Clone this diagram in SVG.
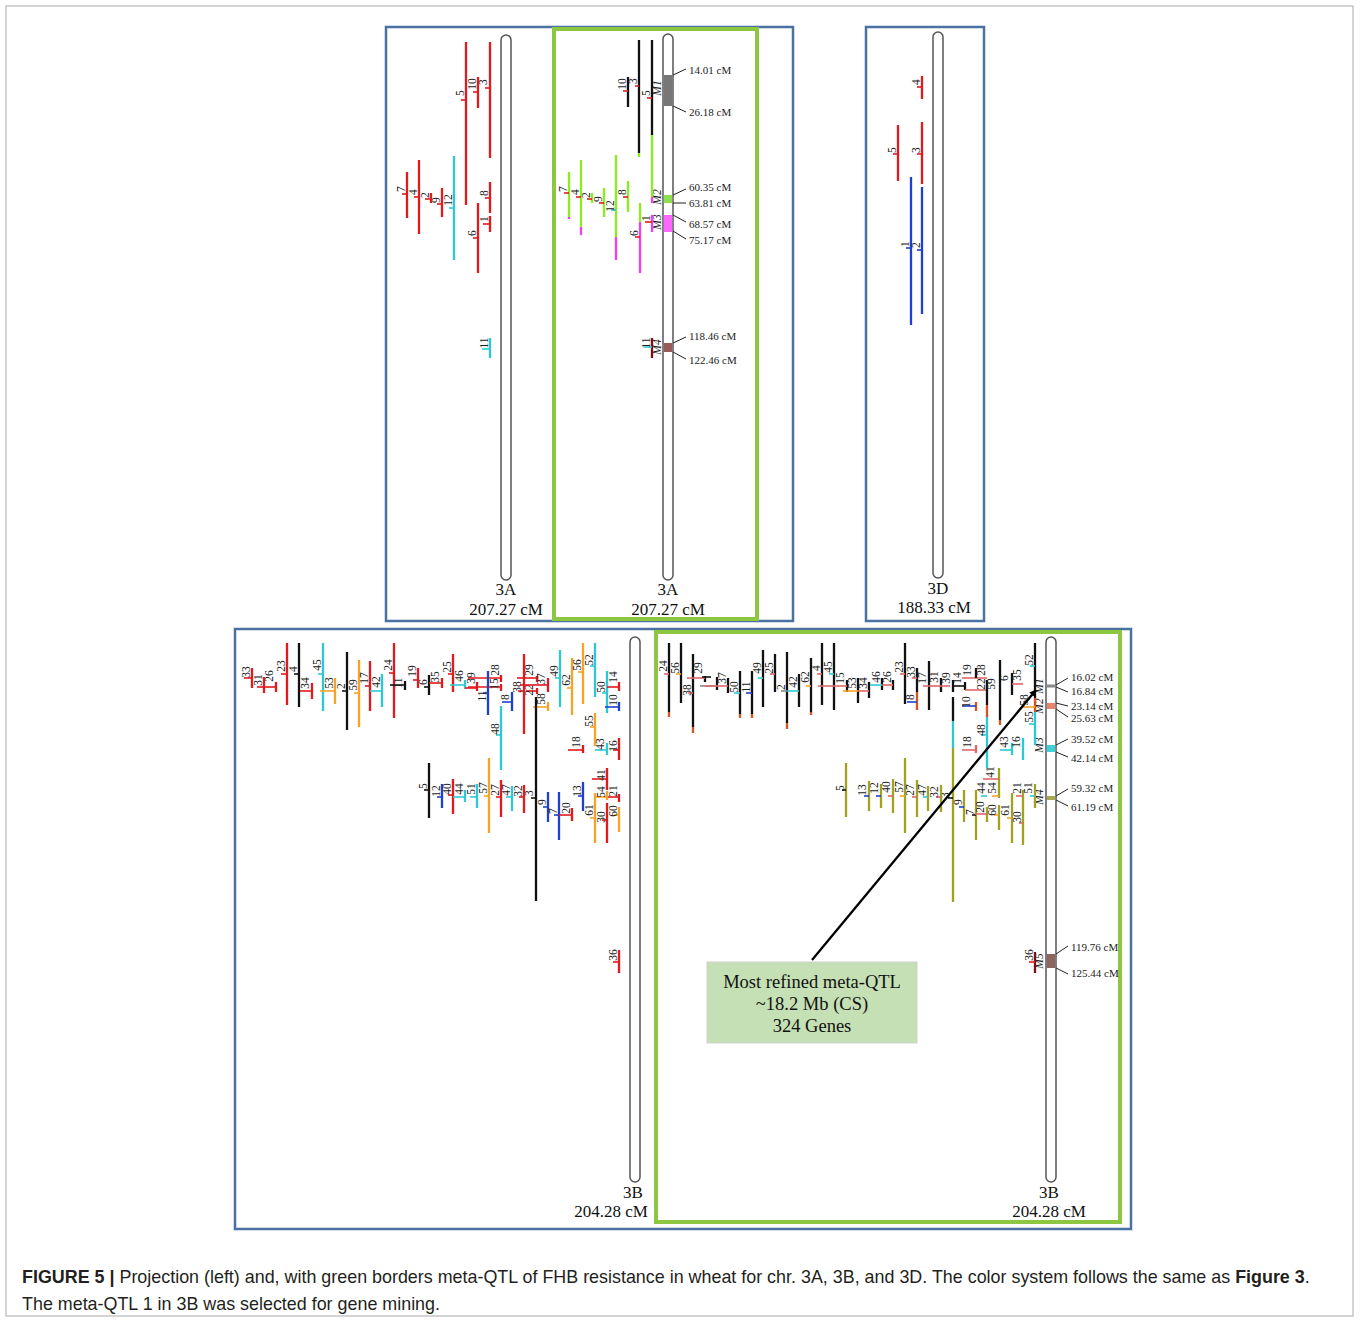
<svg xmlns="http://www.w3.org/2000/svg" width="1360" height="1322" viewBox="0 0 1360 1322">
<style>
line{stroke-width:2.3;fill:none}
.tk{stroke-width:1.6}
.k{stroke:#111}.r{stroke:#e3191c}.c{stroke:#2cc9d4}.o{stroke:#f7a325}.b{stroke:#1f3fd0}.g{stroke:#8aee1c}.m{stroke:#f53cf5}.ol{stroke:#a3a21f}.t{stroke:#d9531e}.lr{stroke:#e06666}.gy{stroke:#888}.dr{stroke:#7a1010}
.lb{font-family:"Liberation Serif","Times New Roman",serif;font-size:11.5px;text-anchor:middle;fill:#222}
.mi{font-family:"Liberation Serif","Times New Roman",serif;font-size:11.5px;font-style:italic;text-anchor:middle;fill:#222}
.cm{font-family:"Liberation Serif","Times New Roman",serif;font-size:11px;fill:#222}
.cl{stroke:#222;stroke-width:1}
.chr{fill:#fff;stroke:#555;stroke-width:1.5}
.ch{font-family:"Liberation Serif","Times New Roman",serif;font-size:17px;text-anchor:middle;fill:#111}
.pb{fill:none;stroke:#4b71a0;stroke-width:2.5}
.pg{fill:none;stroke:#8dc641;stroke-width:4}
.cap{font-family:"Liberation Sans",Arial,sans-serif;font-size:17.9px;fill:#231f20}
</style>
<defs>
<marker id="ah" viewBox="0 0 10 10" refX="9" refY="5" markerWidth="7" markerHeight="7" orient="auto" markerUnits="userSpaceOnUse"><path d="M0,0 L10,5 L0,10 z" fill="#000"/></marker>
</defs>
<rect x="6" y="6" width="1347" height="1310" fill="#fff" stroke="#aaa" stroke-width="1"/>

<g id="panels">
<rect class="pb" x="386" y="27" width="407" height="594"/>
<rect class="pg" x="554" y="29" width="203" height="590"/>
<rect class="pb" x="866" y="27" width="118" height="594"/>
<rect class="pb" x="235" y="629" width="896" height="600"/>
<rect class="pg" x="656" y="632" width="464" height="590"/>
</g>

<g id="chr3A_proj"><rect class="chr" x="501" y="35" width="10" height="545" rx="5"/><text class="ch" x="506" y="595">3A</text><text class="ch" x="506" y="615">207.27 cM</text></g>
<g id="chr3A_meta"><rect class="chr" x="663" y="34" width="10" height="546" rx="5"/>
<rect x="663.8" y="75" width="8.4" height="31" fill="#777"/>
<rect x="663.8" y="195" width="8.4" height="8" fill="#8fe050"/>
<rect x="663.8" y="215" width="8.4" height="17" fill="#ff66ff"/>
<rect x="663.8" y="343" width="8.4" height="9" fill="#9b5a5a"/>
<text class="ch" x="668" y="595">3A</text><text class="ch" x="668" y="615">207.27 cM</text></g>
<g id="chr3D"><rect class="chr" x="933" y="32" width="10" height="546" rx="5"/><text class="ch" x="938" y="594">3D</text><text class="ch" x="934" y="613">188.33 cM</text></g>
<g id="chr3B_proj"><rect class="chr" x="630" y="637" width="10" height="545" rx="5"/><text class="ch" x="633" y="1198">3B</text><text class="ch" x="611" y="1217">204.28 cM</text></g>
<g id="chr3B_meta"><rect class="chr" x="1046" y="637" width="10" height="545" rx="5"/>
<rect x="1046.8" y="684.5" width="8.4" height="3" fill="#888"/>
<rect x="1046.8" y="703" width="8.4" height="6" fill="#e8856c"/>
<rect x="1046.8" y="745" width="8.4" height="7" fill="#40d0d8"/>
<rect x="1046.8" y="796" width="8.4" height="4" fill="#a8a850"/>
<rect x="1046.8" y="954" width="8.4" height="14" fill="#8e6460"/>
<text class="ch" x="1049" y="1198">3B</text><text class="ch" x="1049" y="1217">204.28 cM</text></g>

<g id="meta3A_labels">
<text class="mi" transform="translate(661 88) rotate(-90)">M1</text>
<text class="mi" transform="translate(661 197) rotate(-90)">M2</text>
<text class="mi" transform="translate(661 222) rotate(-90)">M3</text>
<text class="mi" transform="translate(661 347) rotate(-90)">M4</text>
<line class="cl" x1="673" y1="75" x2="686" y2="69"/><text class="cm" x="689" y="74">14.01 cM</text>
<line class="cl" x1="673" y1="106" x2="686" y2="112"/><text class="cm" x="689" y="116">26.18 cM</text>
<line class="cl" x1="673" y1="195" x2="686" y2="189"/><text class="cm" x="689" y="191">60.35 cM</text>
<line class="cl" x1="673" y1="203" x2="686" y2="203"/><text class="cm" x="689" y="207">63.81 cM</text>
<line class="cl" x1="673" y1="215" x2="686" y2="222"/><text class="cm" x="689" y="228">68.57 cM</text>
<line class="cl" x1="673" y1="231" x2="686" y2="239"/><text class="cm" x="689" y="244">75.17 cM</text>
<line class="cl" x1="673" y1="343" x2="686" y2="337"/><text class="cm" x="689" y="340">118.46 cM</text>
<line class="cl" x1="673" y1="352" x2="686" y2="359"/><text class="cm" x="689" y="364">122.46 cM</text>
</g>

<g id="meta3B_labels">
<text class="mi" transform="translate(1043 686) rotate(-90)">M1</text>
<text class="mi" transform="translate(1043 706) rotate(-90)">M2</text>
<text class="mi" transform="translate(1043 745) rotate(-90)">M3</text>
<text class="mi" transform="translate(1043 797) rotate(-90)">M4</text>
<text class="mi" transform="translate(1043 961) rotate(-90)">M5</text>
<line class="cl" x1="1056" y1="685" x2="1068" y2="678"/><text class="cm" x="1071" y="681">16.02 cM</text>
<line class="cl" x1="1056" y1="687" x2="1068" y2="692"/><text class="cm" x="1071" y="695">16.84 cM</text>
<line class="cl" x1="1056" y1="703" x2="1068" y2="706"/><text class="cm" x="1071" y="710">23.14 cM</text>
<line class="cl" x1="1056" y1="709" x2="1068" y2="717"/><text class="cm" x="1071" y="722">25.63 cM</text>
<line class="cl" x1="1056" y1="745" x2="1068" y2="739"/><text class="cm" x="1071" y="743">39.52 cM</text>
<line class="cl" x1="1056" y1="752" x2="1068" y2="757"/><text class="cm" x="1071" y="762">42.14 cM</text>
<line class="cl" x1="1056" y1="796" x2="1068" y2="789"/><text class="cm" x="1071" y="792">59.32 cM</text>
<line class="cl" x1="1056" y1="800" x2="1068" y2="806"/><text class="cm" x="1071" y="811">61.19 cM</text>
<line class="cl" x1="1056" y1="954" x2="1068" y2="946"/><text class="cm" x="1071" y="951">119.76 cM</text>
<line class="cl" x1="1056" y1="968" x2="1068" y2="974"/><text class="cm" x="1071" y="977">125.44 cM</text>
</g>

<g id="a_q5"><line class="r" x1="466" y1="42" x2="466" y2="205"/><line class="r tk" x1="461" y1="100" x2="466" y2="100"/><text class="lb" transform="translate(464 93) rotate(-90)">5</text></g>
<g id="a_q10"><line class="r" x1="478" y1="77" x2="478" y2="108"/><line class="r tk" x1="473" y1="92" x2="478" y2="92"/><text class="lb" transform="translate(476 84) rotate(-90)">10</text></g>
<g id="a_q3"><line class="r" x1="490" y1="42" x2="490" y2="158"/><line class="r tk" x1="485" y1="88" x2="490" y2="88"/><text class="lb" transform="translate(487 82) rotate(-90)">3</text></g>
<g id="a_q7"><line class="r" x1="407" y1="172" x2="407" y2="218"/><line class="r tk" x1="402" y1="194" x2="407" y2="194"/><text class="lb" transform="translate(405 189) rotate(-90)">7</text></g>
<g id="a_q4"><line class="r" x1="419" y1="160" x2="419" y2="234"/><line class="r tk" x1="414" y1="197" x2="419" y2="197"/><text class="lb" transform="translate(417 192) rotate(-90)">4</text></g>
<g id="a_q2"><line class="r" x1="431" y1="193" x2="431" y2="203"/><line class="r tk" x1="425" y1="199" x2="431" y2="199"/><text class="lb" transform="translate(429 195) rotate(-90)">2</text></g>
<g id="a_q9"><line class="r" x1="442" y1="188" x2="442" y2="217"/><line class="r tk" x1="437" y1="204" x2="442" y2="204"/><text class="lb" transform="translate(440 200) rotate(-90)">9</text></g>
<g id="a_q12"><line class="c" x1="454" y1="156" x2="454" y2="260"/><line class="c tk" x1="449" y1="208" x2="454" y2="208"/><text class="lb" transform="translate(452 200) rotate(-90)">12</text></g>
<g id="a_q8"><line class="r" x1="490" y1="182" x2="490" y2="213"/><line class="r tk" x1="485" y1="198" x2="490" y2="198"/><text class="lb" transform="translate(488 193) rotate(-90)">8</text></g>
<g id="a_q1"><line class="r" x1="490" y1="216" x2="490" y2="232"/><line class="r tk" x1="483" y1="224" x2="490" y2="224"/><text class="lb" transform="translate(488 219) rotate(-90)">1</text></g>
<g id="a_q6"><line class="r" x1="478" y1="203" x2="478" y2="273"/><line class="r tk" x1="473" y1="238" x2="478" y2="238"/><text class="lb" transform="translate(476 233) rotate(-90)">6</text></g>
<g id="a_q11"><line class="c" x1="490" y1="338" x2="490" y2="358"/><line class="c tk" x1="482" y1="349" x2="490" y2="349"/><text class="lb" transform="translate(488 343) rotate(-90)">11</text></g>

<g id="am_q10"><line class="k" x1="628" y1="77" x2="628" y2="107"/><line class="r tk" x1="623" y1="91" x2="628" y2="91"/><text class="lb" transform="translate(626 84) rotate(-90)">10</text></g>
<g id="am_q3"><line class="k" x1="639" y1="40" x2="639" y2="153"/><line class="g" x1="639" y1="153" x2="639" y2="157"/><line class="r tk" x1="635" y1="86" x2="639" y2="86"/><text class="lb" transform="translate(637 81) rotate(-90)">3</text></g>
<g id="am_q5"><line class="k" x1="652" y1="40" x2="652" y2="135"/><line class="g" x1="652" y1="135" x2="652" y2="197"/><line class="m" x1="652" y1="197" x2="652" y2="203"/><line class="r tk" x1="647" y1="98" x2="652" y2="98"/><text class="lb" transform="translate(650 93) rotate(-90)">5</text></g>
<g id="am_q7"><line class="g" x1="569" y1="172" x2="569" y2="217"/><line class="m" x1="569" y1="217" x2="569" y2="219"/><line class="r tk" x1="564" y1="193" x2="569" y2="193"/><text class="lb" transform="translate(567 189) rotate(-90)">7</text></g>
<g id="am_q4"><line class="g" x1="581" y1="160" x2="581" y2="227"/><line class="m" x1="581" y1="227" x2="581" y2="235"/><line class="r tk" x1="576" y1="197" x2="581" y2="197"/><text class="lb" transform="translate(579 192) rotate(-90)">4</text></g>
<g id="am_q2"><line class="g" x1="592" y1="193" x2="592" y2="203"/><line class="r tk" x1="587" y1="199" x2="592" y2="199"/><text class="lb" transform="translate(590 195) rotate(-90)">2</text></g>
<g id="am_q9"><line class="g" x1="604" y1="188" x2="604" y2="217"/><line class="r tk" x1="599" y1="203" x2="604" y2="203"/><text class="lb" transform="translate(602 199) rotate(-90)">9</text></g>
<g id="am_q12"><line class="g" x1="616" y1="155" x2="616" y2="237"/><line class="m" x1="616" y1="237" x2="616" y2="260"/><line class="c tk" x1="611" y1="210" x2="616" y2="210"/><text class="lb" transform="translate(614 206) rotate(-90)">12</text></g>
<g id="am_q8"><line class="g" x1="628" y1="181" x2="628" y2="212"/><line class="r tk" x1="623" y1="197" x2="628" y2="197"/><text class="lb" transform="translate(626 192) rotate(-90)">8</text></g>
<g id="am_q6"><line class="g" x1="640" y1="203" x2="640" y2="222"/><line class="m" x1="640" y1="222" x2="640" y2="273"/><line class="r tk" x1="635" y1="237" x2="640" y2="237"/><text class="lb" transform="translate(638 233) rotate(-90)">6</text></g>
<g id="am_q1"><line class="m" x1="652" y1="215" x2="652" y2="232"/><line class="r tk" x1="645" y1="222" x2="652" y2="222"/><text class="lb" transform="translate(650 218) rotate(-90)">1</text></g>
<g id="am_q11"><line class="dr" x1="652" y1="338" x2="652" y2="358"/><line class="c tk" x1="644" y1="347" x2="652" y2="347"/><text class="lb" transform="translate(650 343) rotate(-90)">11</text></g>

<g id="d_q4"><line class="r" x1="922" y1="76" x2="922" y2="99"/><line class="r tk" x1="917" y1="87" x2="922" y2="87"/><text class="lb" transform="translate(920 82) rotate(-90)">4</text></g>
<g id="d_q5"><line class="r" x1="898" y1="125" x2="898" y2="181"/><line class="r tk" x1="893" y1="154" x2="898" y2="154"/><text class="lb" transform="translate(896 150) rotate(-90)">5</text></g>
<g id="d_q3"><line class="r" x1="922" y1="122" x2="922" y2="184"/><line class="r tk" x1="917" y1="154" x2="922" y2="154"/><text class="lb" transform="translate(920 150) rotate(-90)">3</text></g>
<g id="d_q1"><line class="b" x1="911" y1="177" x2="911" y2="325"/><line class="b tk" x1="906" y1="248" x2="911" y2="248"/><text class="lb" transform="translate(909 244) rotate(-90)">1</text></g>
<g id="d_q2"><line class="b" x1="922" y1="187" x2="922" y2="314"/><line class="b tk" x1="917" y1="250" x2="922" y2="250"/><text class="lb" transform="translate(920 245) rotate(-90)">2</text></g>

<g id="b_q33"><line class="r" x1="252" y1="668" x2="252" y2="688"/><line class="r tk" x1="244" y1="678" x2="252" y2="678"/><text class="lb" transform="translate(250 672) rotate(-90)">33</text></g>
<g id="b_q31"><line class="r" x1="264" y1="677" x2="264" y2="693"/><line class="r tk" x1="257" y1="687" x2="264" y2="687"/><text class="lb" transform="translate(262 680) rotate(-90)">31</text></g>
<g id="b_q26"><line class="r" x1="276" y1="682" x2="276" y2="692"/><line class="r tk" x1="264" y1="687" x2="276" y2="687"/><text class="lb" transform="translate(273 676) rotate(-90)">26</text></g>
<g id="b_q23"><line class="r" x1="287" y1="643" x2="287" y2="705"/><line class="r tk" x1="281" y1="674" x2="287" y2="674"/><text class="lb" transform="translate(285 666) rotate(-90)">23</text></g>
<g id="b_q4"><line class="k" x1="299" y1="643" x2="299" y2="707"/><line class="k tk" x1="294" y1="674" x2="299" y2="674"/><text class="lb" transform="translate(297 669) rotate(-90)">4</text></g>
<g id="b_q34"><line class="r" x1="312" y1="683" x2="312" y2="699"/><line class="r tk" x1="300" y1="691" x2="312" y2="691"/><text class="lb" transform="translate(309 683) rotate(-90)">34</text></g>
<g id="b_q45"><line class="c" x1="323" y1="643" x2="323" y2="711"/><line class="c tk" x1="318" y1="674" x2="323" y2="674"/><text class="lb" transform="translate(321 665) rotate(-90)">45</text></g>
<g id="b_q53"><line class="o" x1="335" y1="678" x2="335" y2="704"/><line class="o tk" x1="320" y1="691" x2="335" y2="691"/><text class="lb" transform="translate(333 683) rotate(-90)">53</text></g>
<g id="b_q2"><line class="k" x1="347" y1="652" x2="347" y2="730"/><line class="k tk" x1="342" y1="691" x2="347" y2="691"/><text class="lb" transform="translate(345 686) rotate(-90)">2</text></g>
<g id="b_q59"><line class="o" x1="359" y1="660" x2="359" y2="727"/><line class="o tk" x1="354" y1="693" x2="359" y2="693"/><text class="lb" transform="translate(357 685) rotate(-90)">59</text></g>
<g id="b_q17"><line class="r" x1="370" y1="661" x2="370" y2="711"/><line class="r tk" x1="365" y1="686" x2="370" y2="686"/><text class="lb" transform="translate(368 678) rotate(-90)">17</text></g>
<g id="b_q42"><line class="c" x1="382" y1="674" x2="382" y2="707"/><line class="c tk" x1="370" y1="691" x2="382" y2="691"/><text class="lb" transform="translate(380 682) rotate(-90)">42</text></g>
<g id="b_q24"><line class="r" x1="394" y1="643" x2="394" y2="718"/><line class="r tk" x1="389" y1="673" x2="394" y2="673"/><text class="lb" transform="translate(392 665) rotate(-90)">24</text></g>
<g id="b_q11"><line class="k" x1="405" y1="681" x2="405" y2="690"/><line class="k tk" x1="390" y1="685" x2="405" y2="685"/><text class="lb" transform="translate(402 683) rotate(-90)">11</text></g>
<g id="b_q19"><line class="r" x1="418" y1="668" x2="418" y2="688"/><line class="r tk" x1="413" y1="680" x2="418" y2="680"/><text class="lb" transform="translate(416 671) rotate(-90)">19</text></g>
<g id="b_q6"><line class="k" x1="429" y1="675" x2="429" y2="695"/><line class="k tk" x1="424" y1="687" x2="429" y2="687"/><text class="lb" transform="translate(427 682) rotate(-90)">6</text></g>
<g id="b_q35"><line class="r" x1="442" y1="678" x2="442" y2="688"/><line class="r tk" x1="429" y1="683" x2="442" y2="683"/><text class="lb" transform="translate(439 677) rotate(-90)">35</text></g>
<g id="b_q25"><line class="r" x1="453" y1="654" x2="453" y2="692"/><line class="r tk" x1="448" y1="674" x2="453" y2="674"/><text class="lb" transform="translate(451 667) rotate(-90)">25</text></g>
<g id="b_q46"><line class="c" x1="465" y1="680" x2="465" y2="689"/><line class="c tk" x1="450" y1="685" x2="465" y2="685"/><text class="lb" transform="translate(463 676) rotate(-90)">46</text></g>
<g id="b_q39"><line class="r" x1="477" y1="682" x2="477" y2="691"/><line class="r tk" x1="465" y1="688" x2="477" y2="688"/><text class="lb" transform="translate(475 678) rotate(-90)">39</text></g>
<g id="b_q28"><line class="r" x1="501" y1="675" x2="501" y2="682"/><line class="r tk" x1="468" y1="678" x2="501" y2="678"/><text class="lb" transform="translate(499 670) rotate(-90)">28</text></g>
<g id="b_q15"><line class="r" x1="501" y1="684" x2="501" y2="691"/><line class="r tk" x1="468" y1="687" x2="501" y2="687"/><text class="lb" transform="translate(498 684) rotate(-90)">15</text></g>
<g id="b_q11b"><line class="b" x1="488" y1="671" x2="488" y2="715"/><line class="b tk" x1="483" y1="693" x2="488" y2="693"/><text class="lb" transform="translate(486 696) rotate(-90)">11</text></g>
<g id="b_q8"><line class="b" x1="512" y1="692" x2="512" y2="711"/><line class="b tk" x1="502" y1="702" x2="512" y2="702"/><text class="lb" transform="translate(509 697) rotate(-90)">8</text></g>
<g id="b_q48"><line class="c" x1="501" y1="706" x2="501" y2="770"/><line class="c tk" x1="496" y1="735" x2="501" y2="735"/><text class="lb" transform="translate(499 729) rotate(-90)">48</text></g>
<g id="b_q38"><line class="r" x1="524" y1="654" x2="524" y2="734"/><line class="r tk" x1="518" y1="691" x2="524" y2="691"/><text class="lb" transform="translate(521 687) rotate(-90)">38</text></g>
<g id="b_q29"><line class="r" x1="537" y1="676" x2="537" y2="682"/><line class="r tk" x1="517" y1="678" x2="537" y2="678"/><text class="lb" transform="translate(533 670) rotate(-90)">29</text></g>
<g id="b_q22"><line class="r" x1="537" y1="688" x2="537" y2="694"/><line class="r tk" x1="526" y1="691" x2="537" y2="691"/><text class="lb" transform="translate(533 690) rotate(-90)">22</text></g>
<g id="b_q37"><line class="r" x1="548" y1="678" x2="548" y2="692"/><line class="r tk" x1="520" y1="685" x2="548" y2="685"/><text class="lb" transform="translate(545 679) rotate(-90)">37</text></g>
<g id="b_q58"><line class="o" x1="548" y1="702" x2="548" y2="711"/><line class="o tk" x1="533" y1="707" x2="548" y2="707"/><text class="lb" transform="translate(545 699) rotate(-90)">58</text></g>
<g id="b_q3"><line class="k" x1="536" y1="697" x2="536" y2="901"/><line class="k tk" x1="531" y1="798" x2="536" y2="798"/><text class="lb" transform="translate(533 793) rotate(-90)">3</text></g>
<g id="b_q49"><line class="c" x1="560" y1="650" x2="560" y2="707"/><line class="c tk" x1="555" y1="678" x2="560" y2="678"/><text class="lb" transform="translate(558 671) rotate(-90)">49</text></g>
<g id="b_q62"><line class="o" x1="572" y1="658" x2="572" y2="715"/><line class="o tk" x1="567" y1="688" x2="572" y2="688"/><text class="lb" transform="translate(570 680) rotate(-90)">62</text></g>
<g id="b_q56"><line class="o" x1="583" y1="643" x2="583" y2="704"/><line class="o tk" x1="578" y1="672" x2="583" y2="672"/><text class="lb" transform="translate(581 665) rotate(-90)">56</text></g>
<g id="b_q52"><line class="c" x1="595" y1="643" x2="595" y2="697"/><line class="c tk" x1="590" y1="666" x2="595" y2="666"/><text class="lb" transform="translate(593 660) rotate(-90)">52</text></g>
<g id="b_q50"><line class="c" x1="607" y1="671" x2="607" y2="713"/><line class="c tk" x1="602" y1="693" x2="607" y2="693"/><text class="lb" transform="translate(605 687) rotate(-90)">50</text></g>
<g id="b_q14"><line class="r" x1="619" y1="682" x2="619" y2="691"/><line class="r tk" x1="607" y1="687" x2="619" y2="687"/><text class="lb" transform="translate(617 677) rotate(-90)">14</text></g>
<g id="b_q10"><line class="b" x1="619" y1="702" x2="619" y2="711"/><line class="b tk" x1="605" y1="707" x2="619" y2="707"/><text class="lb" transform="translate(617 700) rotate(-90)">10</text></g>
<g id="b_q55"><line class="o" x1="595" y1="713" x2="595" y2="746"/><line class="o tk" x1="590" y1="727" x2="595" y2="727"/><text class="lb" transform="translate(593 721) rotate(-90)">55</text></g>
<g id="b_q18"><line class="r" x1="583" y1="745" x2="583" y2="753"/><line class="r tk" x1="568" y1="750" x2="583" y2="750"/><text class="lb" transform="translate(580 742) rotate(-90)">18</text></g>
<g id="b_q43"><line class="c" x1="607" y1="743" x2="607" y2="755"/><line class="c tk" x1="595" y1="750" x2="607" y2="750"/><text class="lb" transform="translate(604 744) rotate(-90)">43</text></g>
<g id="b_q16"><line class="r" x1="619" y1="738" x2="619" y2="760"/><line class="r tk" x1="613" y1="750" x2="619" y2="750"/><text class="lb" transform="translate(617 746) rotate(-90)">16</text></g>
<g id="b_q5"><line class="k" x1="429" y1="763" x2="429" y2="818"/><line class="k tk" x1="424" y1="790" x2="429" y2="790"/><text class="lb" transform="translate(427 786) rotate(-90)">5</text></g>
<g id="b_q12"><line class="b" x1="442" y1="784" x2="442" y2="808"/><line class="b tk" x1="437" y1="797" x2="442" y2="797"/><text class="lb" transform="translate(440 791) rotate(-90)">12</text></g>
<g id="b_q40"><line class="r" x1="453" y1="779" x2="453" y2="814"/><line class="r tk" x1="448" y1="795" x2="453" y2="795"/><text class="lb" transform="translate(451 789) rotate(-90)">40</text></g>
<g id="b_q44"><line class="c" x1="465" y1="790" x2="465" y2="802"/><line class="c tk" x1="453" y1="797" x2="465" y2="797"/><text class="lb" transform="translate(463 789) rotate(-90)">44</text></g>
<g id="b_q51"><line class="c" x1="477" y1="784" x2="477" y2="808"/><line class="c tk" x1="470" y1="797" x2="477" y2="797"/><text class="lb" transform="translate(475 789) rotate(-90)">51</text></g>
<g id="b_q57"><line class="o" x1="489" y1="758" x2="489" y2="833"/><line class="o tk" x1="484" y1="796" x2="489" y2="796"/><text class="lb" transform="translate(487 788) rotate(-90)">57</text></g>
<g id="b_q27"><line class="r" x1="501" y1="780" x2="501" y2="817"/><line class="r tk" x1="496" y1="797" x2="501" y2="797"/><text class="lb" transform="translate(499 790) rotate(-90)">27</text></g>
<g id="b_q47"><line class="c" x1="512" y1="786" x2="512" y2="811"/><line class="c tk" x1="506" y1="797" x2="512" y2="797"/><text class="lb" transform="translate(510 790) rotate(-90)">47</text></g>
<g id="b_q32"><line class="r" x1="524" y1="785" x2="524" y2="813"/><line class="r tk" x1="519" y1="797" x2="524" y2="797"/><text class="lb" transform="translate(522 791) rotate(-90)">32</text></g>
<g id="b_q9"><line class="b" x1="548" y1="792" x2="548" y2="822"/><line class="b tk" x1="543" y1="807" x2="548" y2="807"/><text class="lb" transform="translate(546 802) rotate(-90)">9</text></g>
<g id="b_q7"><line class="b" x1="559" y1="792" x2="559" y2="840"/><line class="b tk" x1="554" y1="815" x2="559" y2="815"/><text class="lb" transform="translate(557 811) rotate(-90)">7</text></g>
<g id="b_q20"><line class="r" x1="572" y1="808" x2="572" y2="821"/><line class="r tk" x1="559" y1="815" x2="572" y2="815"/><text class="lb" transform="translate(570 808) rotate(-90)">20</text></g>
<g id="b_q13"><line class="b" x1="583" y1="782" x2="583" y2="811"/><line class="b tk" x1="578" y1="796" x2="583" y2="796"/><text class="lb" transform="translate(581 791) rotate(-90)">13</text></g>
<g id="b_q61"><line class="o" x1="595" y1="793" x2="595" y2="843"/><line class="o tk" x1="590" y1="818" x2="595" y2="818"/><text class="lb" transform="translate(593 810) rotate(-90)">61</text></g>
<g id="b_q41"><line class="r" x1="607" y1="768" x2="607" y2="790"/><line class="r tk" x1="592" y1="779" x2="607" y2="779"/><text class="lb" transform="translate(605 775) rotate(-90)">41</text></g>
<g id="b_q54"><line class="o" x1="607" y1="791" x2="607" y2="800"/><line class="o tk" x1="595" y1="797" x2="607" y2="797"/><text class="lb" transform="translate(605 792) rotate(-90)">54</text></g>
<g id="b_q30"><line class="r" x1="607" y1="803" x2="607" y2="843"/><line class="r tk" x1="602" y1="820" x2="607" y2="820"/><text class="lb" transform="translate(605 817) rotate(-90)">30</text></g>
<g id="b_q21"><line class="r" x1="619" y1="794" x2="619" y2="802"/><line class="r tk" x1="608" y1="797" x2="619" y2="797"/><text class="lb" transform="translate(617 791) rotate(-90)">21</text></g>
<g id="b_q60"><line class="o" x1="619" y1="807" x2="619" y2="832"/><line class="o tk" x1="614" y1="815" x2="619" y2="815"/><text class="lb" transform="translate(617 811) rotate(-90)">60</text></g>
<g id="b_q36"><line class="r" x1="619" y1="950" x2="619" y2="973"/><line class="r tk" x1="613" y1="962" x2="619" y2="962"/><text class="lb" transform="translate(617 955) rotate(-90)">36</text></g>

<g id="bm_q24"><line class="k" x1="669" y1="643" x2="669" y2="712"/><line class="t" x1="669" y1="712" x2="669" y2="717"/><line class="lr tk" x1="664" y1="674" x2="669" y2="674"/><text class="lb" transform="translate(667 666) rotate(-90)">24</text></g>
<g id="bm_q56"><line class="k" x1="681" y1="643" x2="681" y2="703"/><line class="o tk" x1="676" y1="674" x2="681" y2="674"/><text class="lb" transform="translate(679 668) rotate(-90)">56</text></g>
<g id="bm_q38"><line class="k" x1="693" y1="654" x2="693" y2="727"/><line class="t" x1="693" y1="727" x2="693" y2="733"/><line class="lr tk" x1="688" y1="693" x2="693" y2="693"/><text class="lb" transform="translate(691 690) rotate(-90)">38</text></g>
<g id="bm_q29"><line class="k" x1="705" y1="676" x2="705" y2="682"/><line class="lr tk" x1="687" y1="678" x2="705" y2="678"/><text class="lb" transform="translate(702 668) rotate(-90)">29</text></g>
<g id="bm_qT"><line class="k" x1="717" y1="677" x2="717" y2="690"/><line class="gy tk" x1="700" y1="686" x2="717" y2="686"/><line class="k tk" x1="702" y1="677" x2="711" y2="677"/></g>
<g id="bm_q37"><line class="k" x1="728" y1="678" x2="728" y2="693"/><line class="lr tk" x1="705" y1="686" x2="728" y2="686"/><text class="lb" transform="translate(726 678) rotate(-90)">37</text></g>
<g id="bm_q50"><line class="k" x1="740" y1="671" x2="740" y2="714"/><line class="t" x1="740" y1="714" x2="740" y2="718"/><line class="c tk" x1="734" y1="693" x2="740" y2="693"/><text class="lb" transform="translate(738 687) rotate(-90)">50</text></g>
<g id="bm_q11"><line class="k" x1="752" y1="671" x2="752" y2="714"/><line class="t" x1="752" y1="714" x2="752" y2="718"/><line class="b tk" x1="746" y1="693" x2="752" y2="693"/><text class="lb" transform="translate(750 687) rotate(-90)">11</text></g>
<g id="bm_q49"><line class="k" x1="763" y1="650" x2="763" y2="707"/><line class="c tk" x1="758" y1="678" x2="763" y2="678"/><text class="lb" transform="translate(761 668) rotate(-90)">49</text></g>
<g id="bm_q25"><line class="k" x1="775" y1="654" x2="775" y2="692"/><line class="lr tk" x1="770" y1="674" x2="775" y2="674"/><text class="lb" transform="translate(773 668) rotate(-90)">25</text></g>
<g id="bm_q2"><line class="k" x1="787" y1="652" x2="787" y2="723"/><line class="t" x1="787" y1="723" x2="787" y2="729"/><line class="gy tk" x1="781" y1="691" x2="787" y2="691"/><text class="lb" transform="translate(785 687) rotate(-90)">2</text></g>
<g id="bm_q42"><line class="k" x1="799" y1="674" x2="799" y2="707"/><line class="c tk" x1="787" y1="691" x2="799" y2="691"/><text class="lb" transform="translate(797 682) rotate(-90)">42</text></g>
<g id="bm_q62"><line class="k" x1="811" y1="658" x2="811" y2="712"/><line class="t" x1="811" y1="712" x2="811" y2="715"/><line class="o tk" x1="806" y1="686" x2="811" y2="686"/><text class="lb" transform="translate(809 677) rotate(-90)">62</text></g>
<g id="bm_q4"><line class="k" x1="822" y1="643" x2="822" y2="705"/><line class="lr tk" x1="817" y1="674" x2="822" y2="674"/><text class="lb" transform="translate(820 668) rotate(-90)">4</text></g>
<g id="bm_q45"><line class="k" x1="834" y1="643" x2="834" y2="710"/><line class="c tk" x1="829" y1="674" x2="834" y2="674"/><text class="lb" transform="translate(832 667) rotate(-90)">45</text></g>
<g id="bm_q15"><line class="k" x1="847" y1="680" x2="847" y2="692"/><line class="lr tk" x1="818" y1="686" x2="847" y2="686"/><text class="lb" transform="translate(844 678) rotate(-90)">15</text></g>
<g id="bm_q53"><line class="k" x1="858" y1="678" x2="858" y2="703"/><line class="o tk" x1="843" y1="691" x2="858" y2="691"/><text class="lb" transform="translate(856 683) rotate(-90)">53</text></g>
<g id="bm_q34"><line class="k" x1="869" y1="682" x2="869" y2="698"/><line class="lr tk" x1="858" y1="691" x2="869" y2="691"/><text class="lb" transform="translate(867 683) rotate(-90)">34</text></g>
<g id="bm_q46"><line class="k" x1="882" y1="678" x2="882" y2="690"/><line class="c tk" x1="870" y1="685" x2="882" y2="685"/><text class="lb" transform="translate(880 677) rotate(-90)">46</text></g>
<g id="bm_q26"><line class="k" x1="893" y1="680" x2="893" y2="690"/><line class="lr tk" x1="882" y1="685" x2="893" y2="685"/><text class="lb" transform="translate(891 677) rotate(-90)">26</text></g>
<g id="bm_q23"><line class="k" x1="905" y1="643" x2="905" y2="704"/><line class="lr tk" x1="900" y1="674" x2="905" y2="674"/><text class="lb" transform="translate(903 667) rotate(-90)">23</text></g>
<g id="bm_q33"><line class="k" x1="917" y1="668" x2="917" y2="692"/><line class="t" x1="917" y1="692" x2="917" y2="710"/><line class="lr tk" x1="912" y1="678" x2="917" y2="678"/><text class="lb" transform="translate(915 672) rotate(-90)">33</text></g>
<g id="bm_q8"><line class="b tk" x1="907" y1="702" x2="917" y2="702"/><text class="lb" transform="translate(914 697) rotate(-90)">8</text></g>
<g id="bm_q17"><line class="k" x1="929" y1="661" x2="929" y2="710"/><line class="lr tk" x1="923" y1="686" x2="929" y2="686"/><text class="lb" transform="translate(926 678) rotate(-90)">17</text></g>
<g id="bm_q31"><line class="k" x1="941" y1="678" x2="941" y2="692"/><line class="lr tk" x1="929" y1="686" x2="950" y2="686"/><text class="lb" transform="translate(938 677) rotate(-90)">31</text></g>
<g id="bm_q39"><line class="k" x1="953" y1="680" x2="953" y2="692"/><text class="lb" transform="translate(950 678) rotate(-90)">39</text></g>
<g id="bm_q14"><line class="k" x1="965" y1="682" x2="965" y2="690"/><line class="k tk" x1="953" y1="686" x2="965" y2="686"/><text class="lb" transform="translate(961 678) rotate(-90)">14</text></g>
<g id="bm_q19"><line class="lr tk" x1="962" y1="678" x2="987" y2="678"/><text class="lb" transform="translate(971 670) rotate(-90)">19</text></g>
<g id="bm_q28"><line class="k" x1="976" y1="668" x2="976" y2="678"/><text class="lb" transform="translate(985 670) rotate(-90)">28</text></g>
<g id="bm_q22"><line class="lr tk" x1="965" y1="690" x2="987" y2="690"/><text class="lb" transform="translate(985 684) rotate(-90)">22</text></g>
<g id="bm_q59"><line class="k" x1="987" y1="680" x2="987" y2="705"/><line class="t" x1="987" y1="705" x2="987" y2="717"/><line class="c" x1="987" y1="717" x2="987" y2="768"/><text class="lb" transform="translate(995 684) rotate(-90)">59</text></g>
<g id="bm_q10"><line class="t" x1="976" y1="702" x2="976" y2="711"/><line class="b tk" x1="962" y1="706" x2="976" y2="706"/><text class="lb" transform="translate(970 702) rotate(-90)">10</text></g>
<g id="bm_q6"><line class="k" x1="1000" y1="660" x2="1000" y2="720"/><line class="t" x1="1000" y1="720" x2="1000" y2="725"/><text class="lb" transform="translate(1008 678) rotate(-90)">6</text></g>
<g id="bm_q35"><line class="k" x1="1012" y1="673" x2="1012" y2="695"/><line class="lr tk" x1="1012" y1="684" x2="1023" y2="684"/><text class="lb" transform="translate(1021 675) rotate(-90)">35</text></g>
<g id="bm_q52"><line class="k" x1="1035" y1="643" x2="1035" y2="698"/><line class="t" x1="1035" y1="698" x2="1035" y2="712"/><line class="c" x1="1035" y1="712" x2="1035" y2="745"/><line class="c tk" x1="1030" y1="666" x2="1035" y2="666"/><text class="lb" transform="translate(1033 660) rotate(-90)">52</text></g>
<g id="bm_q58"><line class="o tk" x1="1022" y1="707" x2="1035" y2="707"/><text class="lb" transform="translate(1028 700) rotate(-90)">58</text></g>
<g id="bm_q55"><line class="c tk" x1="1029" y1="724" x2="1035" y2="724"/><text class="lb" transform="translate(1033 717) rotate(-90)">55</text></g>
<g id="bm_q48"><line class="c tk" x1="981" y1="735" x2="987" y2="735"/><text class="lb" transform="translate(985 730) rotate(-90)">48</text></g>
<g id="bm_q3"><line class="k" x1="953" y1="697" x2="953" y2="721"/><line class="c" x1="953" y1="721" x2="953" y2="748"/><line class="ol" x1="953" y1="748" x2="953" y2="902"/><line class="k tk" x1="948" y1="798" x2="953" y2="798"/><text class="lb" transform="translate(949 795) rotate(-90)">3</text></g>
<g id="bm_q18"><line class="lr" x1="976" y1="745" x2="976" y2="753"/><line class="lr tk" x1="962" y1="750" x2="976" y2="750"/><text class="lb" transform="translate(971 742) rotate(-90)">18</text></g>
<g id="bm_q43"><line class="c" x1="1012" y1="743" x2="1012" y2="755"/><line class="c tk" x1="1000" y1="750" x2="1012" y2="750"/><text class="lb" transform="translate(1008 742) rotate(-90)">43</text></g>
<g id="bm_q16"><line class="c" x1="1023" y1="738" x2="1023" y2="760"/><text class="lb" transform="translate(1020 742) rotate(-90)">16</text></g>
<g id="bm_q41"><line class="ol" x1="999" y1="768" x2="999" y2="798"/><line class="lr tk" x1="983" y1="779" x2="999" y2="779"/><text class="lb" transform="translate(994 772) rotate(-90)">41</text></g>
<g id="bm_q44"><line class="c tk" x1="981" y1="796" x2="987" y2="796"/><text class="lb" transform="translate(985 788) rotate(-90)">44</text></g>
<g id="bm_q54"><line class="o tk" x1="992" y1="796" x2="999" y2="796"/><text class="lb" transform="translate(996 788) rotate(-90)">54</text></g>
<g id="bm_q5"><line class="ol" x1="846" y1="763" x2="846" y2="817"/><line class="k tk" x1="842" y1="790" x2="846" y2="790"/><text class="lb" transform="translate(844 788) rotate(-90)">5</text></g>
<g id="bm_q13"><line class="ol" x1="869" y1="781" x2="869" y2="811"/><line class="b tk" x1="864" y1="796" x2="869" y2="796"/><text class="lb" transform="translate(866 790) rotate(-90)">13</text></g>
<g id="bm_q12"><line class="ol" x1="881" y1="784" x2="881" y2="808"/><line class="b tk" x1="876" y1="796" x2="881" y2="796"/><text class="lb" transform="translate(878 788) rotate(-90)">12</text></g>
<g id="bm_q40"><line class="ol" x1="893" y1="779" x2="893" y2="813"/><line class="lr tk" x1="888" y1="796" x2="893" y2="796"/><text class="lb" transform="translate(890 787) rotate(-90)">40</text></g>
<g id="bm_q57"><line class="ol" x1="905" y1="758" x2="905" y2="833"/><line class="o tk" x1="900" y1="796" x2="905" y2="796"/><text class="lb" transform="translate(903 787) rotate(-90)">57</text></g>
<g id="bm_q27"><line class="ol" x1="917" y1="780" x2="917" y2="817"/><line class="lr tk" x1="912" y1="797" x2="917" y2="797"/><text class="lb" transform="translate(914 790) rotate(-90)">27</text></g>
<g id="bm_q47"><line class="ol" x1="928" y1="786" x2="928" y2="811"/><line class="c tk" x1="923" y1="797" x2="928" y2="797"/><text class="lb" transform="translate(926 790) rotate(-90)">47</text></g>
<g id="bm_q32"><line class="ol" x1="941" y1="785" x2="941" y2="812"/><line class="lr tk" x1="936" y1="797" x2="941" y2="797"/><text class="lb" transform="translate(938 792) rotate(-90)">32</text></g>
<g id="bm_q9"><line class="ol" x1="964" y1="790" x2="964" y2="822"/><line class="b tk" x1="959" y1="807" x2="964" y2="807"/><text class="lb" transform="translate(962 802) rotate(-90)">9</text></g>
<g id="bm_q7"><line class="ol" x1="976" y1="790" x2="976" y2="840"/><line class="k tk" x1="972" y1="815" x2="976" y2="815"/><text class="lb" transform="translate(974 812) rotate(-90)">7</text></g>
<g id="bm_q20"><line class="ol" x1="987" y1="807" x2="987" y2="822"/><line class="lr tk" x1="975" y1="814" x2="987" y2="814"/><text class="lb" transform="translate(984 807) rotate(-90)">20</text></g>
<g id="bm_q60"><line class="ol" x1="999" y1="805" x2="999" y2="830"/><line class="o tk" x1="994" y1="815" x2="999" y2="815"/><text class="lb" transform="translate(996 810) rotate(-90)">60</text></g>
<g id="bm_q61"><line class="ol" x1="1012" y1="793" x2="1012" y2="843"/><line class="o tk" x1="1007" y1="818" x2="1012" y2="818"/><text class="lb" transform="translate(1009 810) rotate(-90)">61</text></g>
<g id="bm_q30"><line class="ol" x1="1023" y1="790" x2="1023" y2="845"/><line class="lr tk" x1="1019" y1="823" x2="1023" y2="823"/><text class="lb" transform="translate(1021 817) rotate(-90)">30</text></g>
<g id="bm_q21"><line class="lr tk" x1="1016" y1="796" x2="1023" y2="796"/><text class="lb" transform="translate(1021 788) rotate(-90)">21</text></g>
<g id="bm_q51"><line class="ol" x1="1035" y1="784" x2="1035" y2="808"/><line class="c tk" x1="1030" y1="796" x2="1035" y2="796"/><text class="lb" transform="translate(1032 788) rotate(-90)">51</text></g>
<g id="bm_q36"><line class="dr" x1="1035" y1="952" x2="1035" y2="973"/><line class="r tk" x1="1029" y1="962" x2="1035" y2="962"/><text class="lb" transform="translate(1033 955) rotate(-90)">36</text></g>

<g id="callout">
<rect x="707" y="962" width="210" height="81" fill="#c5e0b4" stroke="#d0d0d0" stroke-width="1"/>
<text class="ch" style="font-size:18.5px" x="812" y="988">Most refined meta-QTL</text>
<text class="ch" style="font-size:18.5px" x="812" y="1010">~18.2 Mb (CS)</text>
<text class="ch" style="font-size:18.5px" x="812" y="1032">324 Genes</text>
</g>
<g id="connectors">
<line x1="812" y1="960" x2="1036" y2="690" stroke="#000" stroke-width="2" marker-end="url(#ah)"/>
</g>

<g id="caption">
<text class="cap" x="22" y="1283"><tspan font-weight="bold">FIGURE 5 |</tspan> Projection (left) and, with green borders meta-QTL of FHB resistance in wheat for chr. 3A, 3B, and 3D. The color system follows the same as <tspan font-weight="bold">Figure 3</tspan>.</text>
<text class="cap" x="22" y="1310">The meta-QTL 1 in 3B was selected for gene mining.</text>
</g>
</svg>
